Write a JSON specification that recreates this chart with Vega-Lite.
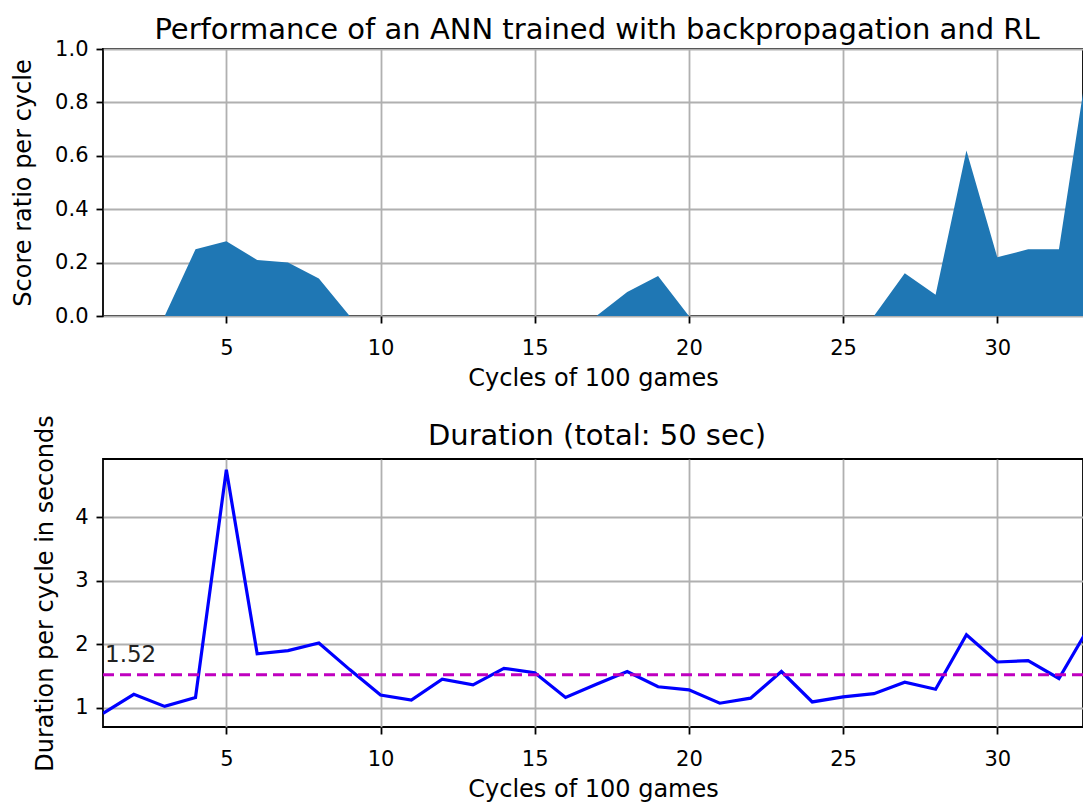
{
  "$schema": "https://vega.github.io/schema/vega-lite/v6.json",
  "background": "white",
  "padding": {"left": 10, "top": 15, "right": 0, "bottom": 0},
  "autosize": {"type": "pad"},
  "bounds": "flush",
  "spacing": 143,
  "datasets": {
    "cycles": [
      {"cycle": 1, "score": 0, "duration": 0.91},
      {"cycle": 2, "score": 0, "duration": 1.21},
      {"cycle": 3, "score": 0, "duration": 1.02},
      {"cycle": 4, "score": 0.25, "duration": 1.16},
      {"cycle": 5, "score": 0.28, "duration": 4.75},
      {"cycle": 6, "score": 0.21, "duration": 1.85},
      {"cycle": 7, "score": 0.2, "duration": 1.9},
      {"cycle": 8, "score": 0.14, "duration": 2.02},
      {"cycle": 9, "score": 0, "duration": 1.6},
      {"cycle": 10, "score": 0, "duration": 1.2},
      {"cycle": 11, "score": 0, "duration": 1.12},
      {"cycle": 12, "score": 0, "duration": 1.45},
      {"cycle": 13, "score": 0, "duration": 1.36},
      {"cycle": 14, "score": 0, "duration": 1.62},
      {"cycle": 15, "score": 0, "duration": 1.55},
      {"cycle": 16, "score": 0, "duration": 1.16},
      {"cycle": 17, "score": 0, "duration": 1.37},
      {"cycle": 18, "score": 0.09, "duration": 1.57},
      {"cycle": 19, "score": 0.15, "duration": 1.33},
      {"cycle": 20, "score": 0, "duration": 1.28},
      {"cycle": 21, "score": 0, "duration": 1.07},
      {"cycle": 22, "score": 0, "duration": 1.15},
      {"cycle": 23, "score": 0, "duration": 1.57},
      {"cycle": 24, "score": 0, "duration": 1.09},
      {"cycle": 25, "score": 0, "duration": 1.17},
      {"cycle": 26, "score": 0, "duration": 1.22},
      {"cycle": 27, "score": 0.16, "duration": 1.4},
      {"cycle": 28, "score": 0.08, "duration": 1.29},
      {"cycle": 29, "score": 0.62, "duration": 2.15},
      {"cycle": 30, "score": 0.22, "duration": 1.72},
      {"cycle": 31, "score": 0.25, "duration": 1.74},
      {"cycle": 32, "score": 0.25, "duration": 1.46},
      {"cycle": 33, "score": 1.0, "duration": 2.29}
    ],
    "mean": [
      {"cycle": 1, "mean": 1.52, "label": "1.52"}
    ]
  },
  "config": {
    "font": "DejaVu Sans",
    "view": {"stroke": "black", "strokeWidth": 1.8},
    "axis": {
      "domain": false,
      "grid": true,
      "gridColor": "#b0b0b0",
      "gridWidth": 1.8,
      "gridOpacity": 1,
      "tickColor": "black",
      "tickSize": 7,
      "tickWidth": 1.8,
      "labelFont": "DejaVu Sans",
      "labelFontSize": 21,
      "labelColor": "black",
      "labelPadding": 8,
      "labelFlush": false,
      "titleFont": "DejaVu Sans",
      "titleFontSize": 24,
      "titleFontWeight": "normal",
      "titleColor": "black"
    },
    "axisX": {"labelPadding": 14, "titlePadding": 8},
    "title": {"font": "DejaVu Sans", "fontSize": 29, "fontWeight": "normal", "color": "black"}
  },
  "vconcat": [
    {
      "width": 980,
      "height": 267,
      "title": {"text": "Performance of an ANN trained with backpropagation and RL", "dx": 4, "dy": 17, "offset": 10},
      "data": {"name": "cycles"},
      "mark": {"type": "area", "color": "#1f77b4", "clip": true},
      "encoding": {
        "x": {
          "field": "cycle",
          "type": "quantitative",
          "scale": {"domain": [1, 32.78], "nice": false, "zero": false},
          "axis": {"values": [5, 10, 15, 20, 25, 30], "title": "Cycles of 100 games"}
        },
        "y": {
          "field": "score",
          "type": "quantitative",
          "scale": {"domain": [0, 1], "nice": false},
          "axis": {"values": [0, 0.2, 0.4, 0.6, 0.8, 1.0], "format": ".1f", "title": "Score ratio per cycle", "titlePadding": 19}
        }
      }
    },
    {
      "width": 980,
      "height": 268,
      "title": {"text": "Duration (total: 50 sec)", "dx": 4, "dy": 46, "offset": 10},
      "layer": [
        {
          "data": {"name": "cycles"},
          "mark": {"type": "line", "color": "#0000ff", "strokeWidth": 3.2, "clip": true},
          "encoding": {
            "x": {
              "field": "cycle",
              "type": "quantitative",
              "scale": {"domain": [1, 32.78], "nice": false, "zero": false},
              "axis": {"values": [5, 10, 15, 20, 25, 30], "title": "Cycles of 100 games"}
            },
            "y": {
              "field": "duration",
              "type": "quantitative",
              "scale": {"domain": [0.695, 4.92], "nice": false, "zero": false},
              "axis": {"values": [1, 2, 3, 4], "format": "d", "title": "Duration per cycle in seconds", "titlePadding": 17}
            }
          }
        },
        {
          "data": {"name": "mean"},
          "mark": {"type": "rule", "color": "#bf00bf", "strokeDash": [11, 6], "strokeWidth": 3},
          "encoding": {
            "y": {"field": "mean", "type": "quantitative"}
          }
        },
        {
          "data": {"name": "mean"},
          "mark": {"type": "text", "align": "left", "baseline": "bottom", "dx": 2, "dy": -8, "fontSize": 23, "color": "#222222"},
          "encoding": {
            "x": {"field": "cycle", "type": "quantitative"},
            "y": {"field": "mean", "type": "quantitative"},
            "text": {"field": "label"}
          }
        }
      ]
    }
  ]
}
